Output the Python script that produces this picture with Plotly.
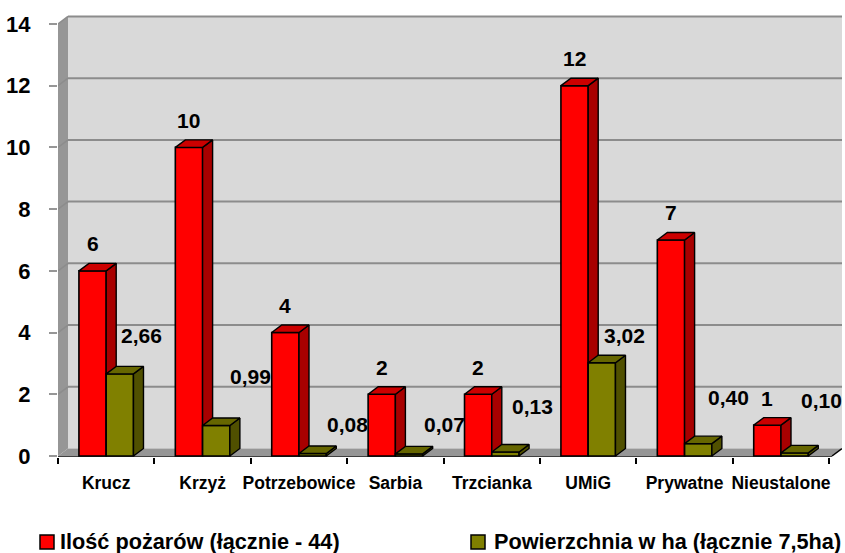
import plotly.graph_objects as go

categories = ["Krucz", "Krzyż", "Potrzebowice", "Sarbia", "Trzcianka", "UMiG", "Prywatne", "Nieustalone"]
fires = [6, 10, 4, 2, 2, 12, 7, 1]
area = [2.66, 0.99, 0.08, 0.07, 0.13, 3.02, 0.40, 0.10]
y_ticks = [0, 2, 4, 6, 8, 10, 12, 14]
fires_name = "Ilość pożarów (łącznie - 44)"
area_name = "Powierzchnia w ha (łącznie 7,5ha)"

# label nudges in pixels (style only)
fires_shift = [(0, 27)] * 8
area_shift = [(22, 38), (34, 49), (35, 29), (35, 29), (27, 45), (23, 27), (30, 46), (27, 52)]

W, H = 845, 553
L, R, T, B = 58, 842, 14, 457
CAT_PX = 96.4
UNIT_PX = 30.86
ZERO_PX = 456
DX = 10 / CAT_PX
DY = 7.5 / UNIT_PX
BAR_W = 0.283
FONT = "Liberation Sans, Arial"

xr = [0, (R - L) / CAT_PX]
yr = [(ZERO_PX - B) / UNIT_PX, (ZERO_PX - T) / UNIT_PX]
n = len(categories)
centers = [i + 0.5 for i in range(n)]


def faces(x_left, values):
    sx, sy, tx, ty = [], [], [], []
    for x0, v in zip(x_left, values):
        x1 = x0 + BAR_W
        sx += [x1, x1 + DX, x1 + DX, x1, x1, None]
        sy += [0, DY, v + DY, v, 0, None]
        tx += [x0, x1, x1 + DX, x0 + DX, x0, None]
        ty += [v, v, v + DY, v + DY, v, None]
    return sx, sy, tx, ty


def face(x, y, color, xa, ya):
    return go.Scatter(x=x, y=y, xaxis=xa, yaxis=ya, mode="lines", fill="toself", fillcolor=color,
                      line=dict(color="black", width=1.4), hoverinfo="skip", showlegend=False)


edge = dict(color="black", width=1.6)
fig = go.Figure()

red_x = [c - BAR_W for c in centers]
ol_x = list(centers)

sx, sy, tx, ty = faces(red_x, fires)
fig.add_trace(go.Bar(x=[c - BAR_W / 2 for c in centers], y=fires, width=BAR_W, name=fires_name,
                     marker=dict(color="#FF0000", line=edge), showlegend=False))
fig.add_trace(face(sx, sy, "#A80000", "x", "y"))
fig.add_trace(face(tx, ty, "#CC0000", "x", "y"))

sx, sy, tx, ty = faces(ol_x, area)
fig.add_trace(go.Bar(x=[c + BAR_W / 2 for c in centers], y=area, width=BAR_W, name=area_name,
                     xaxis="x2", yaxis="y2", marker=dict(color="#808000", line=edge), showlegend=False))
fig.add_trace(face(sx, sy, "#505000", "x2", "y2"))
fig.add_trace(face(tx, ty, "#666600", "x2", "y2"))

wall = "#D9D9D9"
side = "#969696"
grid = "#8C8C8C"
shapes = [
    dict(type="rect", x0=DX, x1=xr[1], y0=DY, y1=14 + DY, fillcolor=wall, line=dict(width=0), layer="below"),
    dict(type="path", path=f"M 0 0 L {DX} {DY} L {DX} {14 + DY} L 0 14 Z", fillcolor=side, line=dict(width=0), layer="below"),
    dict(type="path", path=f"M 0 0 L {DX} {DY} L {xr[1]} {DY} L {xr[1] - DX} 0 Z", fillcolor=side, line=dict(width=0), layer="below"),
    dict(type="line", x0=xr[1] - DX, x1=xr[1], y0=0, y1=DY, line=dict(color="black", width=1.5), layer="below"),
    dict(type="line", x0=0, x1=xr[1] - DX, y0=yr[0], y1=yr[0], line=dict(color="black", width=1.5), layer="below"),
]
for v in y_ticks[1:]:
    shapes.append(dict(type="line", x0=DX, x1=xr[1], y0=v + DY, y1=v + DY, line=dict(color=grid, width=2), layer="below"))
    shapes.append(dict(type="line", x0=0, x1=DX, y0=v, y1=v + DY, line=dict(color=grid, width=1.5), layer="below"))

for (x, y, w, c) in [(40, 542, 14, "#FF0000"), (471, 542, 14, "#808000")]:
    shapes.append(dict(type="rect", xref="paper", yref="paper",
                       x0=(x - L) / (R - L), x1=(x + w - L) / (R - L),
                       y0=(B - y - w / 2) / (B - T), y1=(B - y + w / 2) / (B - T),
                       fillcolor=c, line=dict(color="black", width=1.5)))

lab = dict(family=FONT, size=21, color="black", weight="bold")
ann = []
for c, v, (ox, oy) in zip(centers, fires, fires_shift):
    ann.append(dict(x=c - BAR_W / 2, y=v, text=str(v), showarrow=False, font=lab, xshift=ox, yshift=oy))
for c, v, (ox, oy) in zip(centers, area, area_shift):
    ann.append(dict(x=c + BAR_W / 2, y=v, text=f"{v:.2f}".replace(".", ","), showarrow=False, font=lab, xshift=ox, yshift=oy))
leg = dict(family=FONT, size=21.7, color="black", weight="bold")
for x, t in [(58, fires_name), (492, area_name)]:
    ann.append(dict(xref="paper", yref="paper", x=(x - L) / (R - L), y=(B - 541) / (B - T),
                    text=t, showarrow=False, font=leg, xanchor="left", yanchor="middle"))

fig.update_layout(
    width=W, height=H, autosize=False, margin=dict(l=L, r=W - R, t=T, b=H - B),
    paper_bgcolor="white", plot_bgcolor="rgba(0,0,0,0)", barmode="overlay", showlegend=False,
    shapes=shapes, annotations=ann,
    xaxis=dict(range=xr, tickmode="array", tickvals=list(range(n + 1)), ticktext=[""] * (n + 1),
               ticks="outside", ticklen=6, tickwidth=1.5, tickcolor="black", showgrid=False, zeroline=False,
               showline=False),
    xaxis2=dict(range=xr, overlaying="x", anchor="y2", tickmode="array", tickvals=centers, ticktext=categories,
                ticks="", showgrid=False, zeroline=False, showline=False, ticklabelstandoff=13,
                tickfont=dict(family=FONT, size=17.5, color="black", weight="bold"), tickangle=0),
    yaxis=dict(range=yr, tickmode="array", tickvals=y_ticks, ticks="outside", ticklen=8, tickwidth=1.5,
               tickcolor=side, showgrid=False, zeroline=False, showline=False, ticklabelstandoff=14,
               tickfont=dict(family=FONT, size=22, color="black", weight="bold")),
    yaxis2=dict(range=yr, overlaying="y", showticklabels=False, ticks="", showgrid=False, zeroline=False, showline=False),
)
fig.write_html("out.html", config={"displayModeBar": False},
               post_script="document.body.style.margin='0';document.documentElement.style.overflow='hidden';")
